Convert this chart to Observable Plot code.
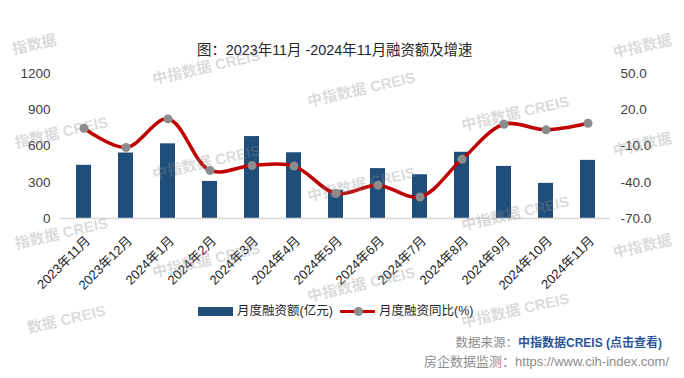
<!DOCTYPE html>
<html>
<head>
<meta charset="utf-8">
<script src="https://cdn.jsdelivr.net/npm/d3@7"></script>
<script src="https://cdn.jsdelivr.net/npm/@observablehq/plot@0.6"></script>
<style>
  html, body { margin: 0; padding: 0; background: #fff; }
  #root { position: relative; width: 684px; height: 378px; overflow: hidden; background: #fff;
          font-family: "Liberation Sans", "Noto Sans CJK SC", sans-serif; }
  .abs { position: absolute; white-space: nowrap; }
  #chart { position: absolute; left: 0; top: 0; }
  #wm { position: absolute; left: 0; top: 0; width: 684px; height: 378px; pointer-events: none; }
  .wmt { position: absolute; font-weight: bold; font-size: 15px; color: rgba(140,140,140,0.32);
         transform: translate(-50%, -50%) rotate(-13deg); white-space: nowrap; }
</style>
</head>
<body>
<div id="root">
  <div class="abs" style="left:197px;top:41px;font-size:14.4px;line-height:18px;color:#262626;">图：2023年11月 -2024年11月融资额及增速</div>
  <div id="chart"></div>
  <div id="legend"></div>
  <div class="abs" style="right:22px;top:335px;font-size:12.5px;line-height:16px;color:#8c8c8c;">数据来源：<span style="color:#2f5597;font-weight:bold;font-size:12px;">中指数据CREIS (点击查看)</span></div>
  <div class="abs" style="right:15px;top:354px;font-size:13px;line-height:16px;color:#8c8c8c;">房企数据监测：https://www.cih-index.com/</div>
  <div id="wm"></div>
</div>
<script>
const months = ["2023年11月","2023年12月","2024年1月","2024年2月","2024年3月","2024年4月","2024年5月","2024年6月","2024年7月","2024年8月","2024年9月","2024年10月","2024年11月"];
const amounts = [440, 542, 618, 307, 678, 544, 233, 413, 362, 548, 431, 291, 481];
const yoy = [4.7, -11.2, 12.4, -30.2, -26.1, -26.6, -49.3, -42.4, -52.2, -21.0, 8.0, 3.4, 8.8];
const leftTicks = [0, 300, 600, 900, 1200];
const rightTicks = [-70, -40, -10, 20, 50];
const seriesNames = ["月度融资额(亿元)", "月度融资同比(%)"];

// right axis maps [-70, 50] onto left [0, 1200]
const rMin = -70, rMax = 50, lMax = 1200;
const toLeft = v => (v - rMin) / (rMax - rMin) * lMax;

const rows = months.map((m, i) => ({month: m, amount: amounts[i], yoy: yoy[i], yoyL: toLeft(yoy[i])}));

const font = '"Liberation Sans", "Noto Sans CJK SC", sans-serif';
const plot = Plot.plot({
  width: 684,
  height: 300,
  marginTop: 73,
  marginBottom: 82,
  marginLeft: 60,
  marginRight: 74,
  style: {fontFamily: font, fontSize: "13.5px", color: "#404040", background: "transparent", overflow: "visible"},
  x: {domain: months, paddingInner: 0.65, paddingOuter: 0.325, label: null},
  y: {domain: [0, lMax], label: null},
  marks: [
    Plot.barY(rows, {x: "month", y: "amount", fill: "#1f4e79"}),
    Plot.ruleY([0], {stroke: "#d9d9d9", strokeWidth: 1.5}),
    Plot.line(rows, {x: "month", y: "yoyL", stroke: "#c00000", strokeWidth: 3.5, curve: "catmull-rom"}),
    Plot.dot(rows, {x: "month", y: "yoyL", r: 4.5, fill: "#8c8c8c", stroke: "none"}),
    Plot.axisY(leftTicks, {anchor: "left", tickSize: 0, tickPadding: 10, label: null, fill: "#404040", tickFormat: d => String(d)}),
    Plot.axisY(rightTicks.map(toLeft), {anchor: "right", tickSize: 0, tickPadding: 10, label: null, textAnchor: "start",
      tickFormat: d => (d / lMax * (rMax - rMin) + rMin).toFixed(1), fill: "#404040"}),
    Plot.axisX({tickSize: 0, tickPadding: 20, tickRotate: -45, dx: 4, label: null, fontSize: 13, fill: "#262626"})
  ]
});
document.getElementById("chart").appendChild(plot);

// legend
const lg = document.getElementById("legend");
lg.innerHTML = `
  <div class="abs" style="left:198px;top:307px;width:35px;height:9px;background:#1f4e79;"></div>
  <div class="abs" style="left:237px;top:303px;font-size:12.5px;line-height:16px;color:#262626;">${seriesNames[0]}</div>
  <div class="abs" style="left:340px;top:310px;width:35px;height:3px;background:#c00000;border-radius:1px;"></div>
  <div class="abs" style="left:354px;top:307px;width:9px;height:9px;border-radius:50%;background:#8c8c8c;"></div>
  <div class="abs" style="left:379px;top:303px;font-size:12.5px;line-height:16px;color:#262626;">${seriesNames[1]}</div>`;

// watermarks (decorative), only the parts visible in the reference
const wmItems = [
  ["指数据", 34, 43], ["指数据 CREIS", 61, 131], ["指数据 CREIS", 61, 232], ["数据 CREIS", 66, 318],
  ["中指数据 CREIS", 206, 66], ["中指数据 CREIS", 206, 161], ["中指数据 CREIS", 206, 259],
  ["中指数据 CREIS", 361, 88], ["中指数据 CREIS", 361, 183], ["中指数据 CREIS", 361, 283],
  ["中指数据 CREIS", 515, 112], ["中指数据 CREIS", 515, 212], ["中指数据 CREIS", 515, 309],
  ["中指数据", 642, 45], ["中指数据", 642, 143], ["中指数据", 642, 245]
];
const wm = document.getElementById("wm");
wmItems.forEach(([t, x, y]) => {
  const d = document.createElement("div");
  d.className = "wmt";
  d.style.left = x + "px";
  d.style.top = y + "px";
  d.textContent = t;
  wm.appendChild(d);
});
</script>
</body>
</html>
